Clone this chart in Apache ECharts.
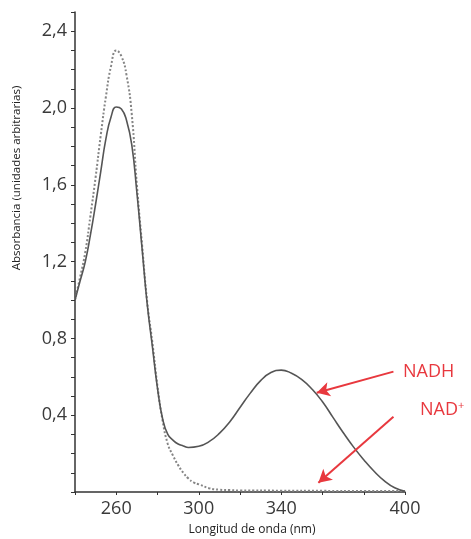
<!DOCTYPE html>
<html>
<head>
<meta charset="utf-8">
<script src="https://cdn.jsdelivr.net/npm/echarts@6/dist/echarts.min.js"></script>
<style>html,body{margin:0;padding:0;background:#fff}#c{width:471px;height:539px}</style>
</head>
<body>
<div id="c"></div>
<script>
// Wavelength (nm) and absorbance values
const nadhX = [240,242.5,245,247.5,250,252.5,255,257.5,260,262.5,265,267.5,270,272.5,275,277.5,280,282.5,285,287.5,290,292.5,295,300,305,310,315,320,325,330,335,340,345,350,355,360,365,370,375,380,385,390,395,400];
const nadhY = [1.00,1.10,1.20,1.34,1.50,1.67,1.84,1.955,2.005,1.995,1.935,1.81,1.56,1.27,0.98,0.76,0.54,0.38,0.30,0.27,0.25,0.24,0.232,0.238,0.262,0.305,0.365,0.44,0.515,0.58,0.622,0.635,0.618,0.585,0.535,0.47,0.39,0.31,0.235,0.168,0.108,0.058,0.022,0.004];
const nadX = [240,242.5,245,247.5,250,252.5,255,257.5,260,262.5,265,267.5,270,272.5,275,277.5,280,282.5,285,287.5,290,292.5,295,297.5,300,305,310,315,320,340,360,380,400];
const nadY = [1.00,1.12,1.25,1.44,1.64,1.86,2.06,2.22,2.30,2.27,2.17,1.97,1.60,1.29,0.99,0.78,0.55,0.37,0.25,0.19,0.14,0.10,0.07,0.05,0.04,0.02,0.012,0.01,0.008,0.007,0.006,0.005,0.005];
const xLabels = [260,300,340,400];
const yLabelStep = 0.4;
const markerNm = 338;
const markerTop = 0.70;
const arrowNADH = [[394.4,0.627],[357.2,0.517]];
const arrowNAD = [[394.4,0.392],[358.0,0.048]];

const chart = echarts.init(document.getElementById('c'));
const font = '"Open Sans", "DejaVu Sans", sans-serif';
const red = '#e8383e';
chart.setOption({
  backgroundColor: '#ffffff',
  animation: false,
  grid: {left: 75, right: 66, top: 12, bottom: 47},
  xAxis: {
    type: 'value', min: 240, max: 400, interval: 20,
    axisLine: {lineStyle: {color: '#333', width: 1.5}},
    axisTick: {show: true, length: 3, lineStyle: {color: '#333'}},
    splitLine: {show: false},
    axisLabel: {
      margin: 8, color: '#3a3a3a', fontSize: 18, fontFamily: font,
      formatter: v => xLabels.indexOf(Math.round(v)) >= 0 ? String(Math.round(v)) : ''
    }
  },
  yAxis: {
    type: 'value', min: 0, max: 2.5, interval: 0.1,
    axisLine: {show: true, lineStyle: {color: '#333', width: 1.5}},
    axisTick: {show: true, length: 4, lineStyle: {color: '#333'}},
    splitLine: {show: false},
    axisLabel: {
      margin: 8, color: '#3a3a3a', fontSize: 18, fontFamily: font,
      formatter: v => {
        const k = Math.round(v * 10);
        if (k === 0 || k % Math.round(yLabelStep * 10) !== 0) return '';
        return (k / 10).toFixed(1).replace('.', ',');
      }
    }
  },
  graphic: [
    {type: 'text', x: 17, y: 178, rotation: Math.PI / 2,
     style: {text: 'Absorbancia (unidades arbitrarias)', font: '11.5px ' + font, fill: '#222', textAlign: 'center', textVerticalAlign: 'middle'}},
    {type: 'text', x: 252, y: 530,
     style: {text: 'Longitud de onda (nm)', font: '12px ' + font, fill: '#222', textAlign: 'center', textVerticalAlign: 'middle'}},
    {type: 'text', x: 403, y: 372,
     style: {text: 'NADH', font: '18px ' + font, fill: red, textAlign: 'left', textVerticalAlign: 'middle'}},
    {type: 'text', x: 420, y: 410,
     style: {text: '{a|NAD}{b|+}', textAlign: 'left', textVerticalAlign: 'middle',
       rich: {a: {font: '18px ' + font, fill: red, color: red}, b: {font: '11px ' + font, color: red, fill: red, verticalAlign: 'top', padding: [0,0,8,0]}}}}
  ],
  series: [
    {
      name: 'NAD+', type: 'line', smooth: 0.5, symbol: 'none',
      data: nadX.map((x, i) => [x, nadY[i]]),
      lineStyle: {color: '#858585', width: 2, type: 'dotted'}, z: 2
    },
    {
      name: 'NADH', type: 'line', smooth: 0.5, symbol: 'none',
      data: nadhX.map((x, i) => [x, nadhY[i]]),
      lineStyle: {color: '#555', width: 1.6}, z: 3,
      markLine: {
        silent: true, animation: false,
        label: {show: false},
        data: [
          [{coord: [markerNm, -0.04], symbol: 'none', lineStyle: {color: '#4a7fc1', width: 1.5, type: 'solid'}},
           {coord: [markerNm, markerTop], symbol: 'none'}],
          [{coord: arrowNADH[0], symbol: 'none', lineStyle: {color: red, width: 2, type: 'solid'}},
           {coord: arrowNADH[1], symbol: 'arrow', symbolSize: [11, 13]}],
          [{coord: arrowNAD[0], symbol: 'none', lineStyle: {color: red, width: 2, type: 'solid'}},
           {coord: arrowNAD[1], symbol: 'arrow', symbolSize: [11, 13]}]
        ]
      }
    }
  ]
});
</script>
</body>
</html>
